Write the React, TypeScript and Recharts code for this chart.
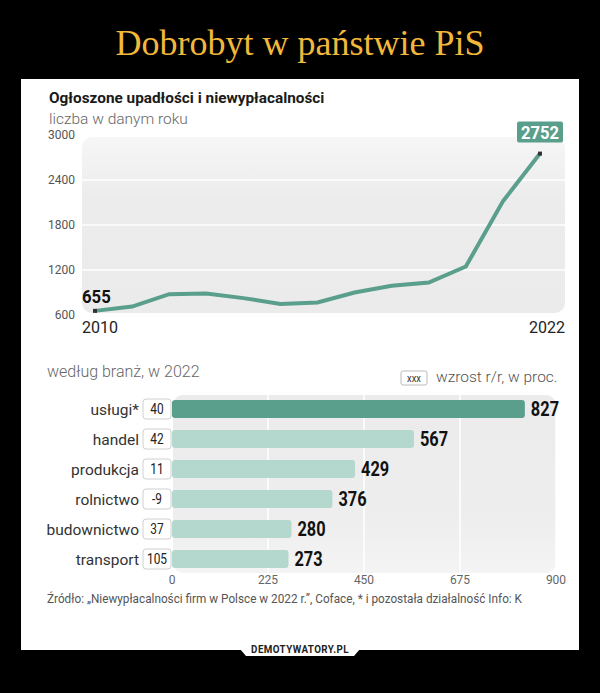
import React from 'react';
import {
  LineChart,
  Line,
  BarChart,
  Bar,
  Cell,
  XAxis,
  YAxis,
  CartesianGrid,
  LabelList,
} from 'recharts';

// --- Data ---
const years = [2010, 2011, 2012, 2013, 2014, 2015, 2016, 2017, 2018, 2019, 2020, 2021, 2022];
const insolvencies = [655, 712, 878, 886, 825, 748, 766, 899, 989, 1033, 1247, 2115, 2752];
const yTicks = [600, 1200, 1800, 2400, 3000];

const sectors = ['usługi*', 'handel', 'produkcja', 'rolnictwo', 'budownictwo', 'transport'];
const sectorCounts = [827, 567, 429, 376, 280, 273];
const sectorGrowth = [40, 42, 11, -9, 37, 105];
const xTicks = [0, 225, 450, 675, 900];

const lineData = years.map((year, i) => ({ year, value: insolvencies[i] }));
const barData = sectors.map((name, i) => ({ name, value: sectorCounts[i], growth: sectorGrowth[i] }));

const SANS = 'Roboto, "Noto Sans", sans-serif';
const TEAL = '#5a9e8c';
const TEAL_LIGHT = '#b4d7ce';

// narrow text: no condensed font installed, so squeeze Roboto horizontally
const CondText = ({ x, y, sx = 0.84, anchor = 'start', children, ...rest }: any) => (
  <text
    transform={`translate(${x},${y}) scale(${sx},1)`}
    textAnchor={anchor}
    fontFamily={SANS}
    {...rest}
  >
    {children}
  </text>
);

// --- Line chart pieces ---
const EndDot = (props: any) => {
  const { cx, cy, index } = props;
  if (index !== 0 && index !== years.length - 1) return null;
  return <rect x={cx - 2} y={cy - 2} width={4} height={4} fill="#333" />;
};

const LineLabel = (props: any) => {
  const { x, y, index, value } = props;
  if (index === 0) {
    return (
      <CondText x={x - 13} y={y - 8} fill="#111" fontSize={19} fontWeight={700} sx={0.88}>
        {value}
      </CondText>
    );
  }
  if (index === years.length - 1) {
    return (
      <g>
        <rect x={x - 23} y={y - 32} width={46} height={21} rx={2} fill={TEAL} />
        <CondText x={x} y={y - 15} fill="#fff" fontSize={18} fontWeight={700} anchor="middle" sx={0.92}>
          {value}
        </CondText>
      </g>
    );
  }
  return null;
};

const YearTick = (props: any) => {
  const { x, y, payload } = props;
  const first = payload.value === years[0];
  return (
    <text
      x={first ? x - 13 : x + 25}
      y={y + 18}
      textAnchor={first ? 'start' : 'end'}
      fill="#222"
      fontSize={16}
      fontFamily={SANS}
    >
      {payload.value}
    </text>
  );
};

// --- Bar chart pieces ---
const SectorTick = (props: any) => {
  const { x, y, payload, index } = props;
  const growth = sectorGrowth[index];
  return (
    <g>
      <text x={x - 33} y={y + 6} textAnchor="end" fill="#333" fontSize={15.5} fontFamily={SANS}>
        {payload.value}
      </text>
      <rect x={x - 29} y={y - 10} width={28} height={20} rx={3} fill="#fff" stroke="#d0d0d0" />
      <CondText x={x - 15} y={y + 5} anchor="middle" fill="#222" fontSize={14} sx={0.85}>
        {growth}
      </CondText>
    </g>
  );
};

const BarValue = (props: any) => {
  const { x, y, width, height, value } = props;
  return (
    <CondText x={x + width + 6} y={y + height / 2 + 7} fill="#111" fontSize={19.5} fontWeight={700} sx={0.84}>
      {value}
    </CondText>
  );
};

const App: React.FC = () => {
  return (
    <div style={{ position: 'absolute', left: 0, top: 0, width: 600, height: 693, background: '#000', overflow: 'hidden' }}>
      {/* card */}
      <div style={{ position: 'absolute', left: 21, top: 79, width: 558, height: 571, background: '#fff' }} />

      {/* plot backgrounds */}
      <div
        style={{
          position: 'absolute', left: 82, top: 137, width: 483, height: 176, borderRadius: 10,
          background: 'linear-gradient(to bottom, #f6f6f6, #ececec 35%, #ebebeb)',
        }}
      />
      <div
        style={{
          position: 'absolute', left: 173, top: 395, width: 383, height: 178, borderRadius: 10,
          background: 'linear-gradient(to bottom, #ebebeb, #eeeeee 70%, #f4f4f4)',
        }}
      />

      {/* static texts */}
      <svg width={600} height={693} style={{ position: 'absolute', left: 0, top: 0 }}>
        <text x={300} y={55} textAnchor="middle" fill="#f2b83a" fontSize={36} fontFamily='"Liberation Serif", serif'>
          Dobrobyt w państwie PiS
        </text>
        <CondText x={49} y={103} fill="#1a1a1a" fontSize={15.5} fontWeight={700} sx={0.99}>
          Ogłoszone upadłości i niewypłacalności
        </CondText>
        <text x={49} y={124} fill="#666" fontSize={15.5} fontWeight={300} fontFamily={SANS}>
          liczba w danym roku
        </text>
        <text x={47} y={377} fill="#666" fontSize={16} fontWeight={300} fontFamily={SANS}>
          według branż, w 2022
        </text>
        <rect x={401} y={371} width={26} height={14} rx={2} fill="#fff" stroke="#bbb" />
        <CondText x={414} y={382} anchor="middle" fill="#333" fontSize={11} sx={0.85}>xxx</CondText>
        <text x={436} y={382} fill="#555" fontSize={15.5} fontWeight={300} fontFamily={SANS}>
          wzrost r/r, w proc.
        </text>
        <CondText x={47} y={603} fill="#555" fontSize={12} sx={0.98}>
          Źródło: „Niewypłacalności firm w Polsce w 2022 r.”, Coface, * i pozostała działalność  Info: K
        </CondText>
        <polygon points="240,649 360,649 354,656 246,656" fill="#fff" />
        <CondText x={300} y={653} anchor="middle" fill="#222" fontSize={11.5} fontWeight={700} sx={0.85} letterSpacing={0.5}>
          DEMOTYWATORY.PL
        </CondText>
      </svg>

      {/* line chart */}
      <div style={{ position: 'absolute', left: 21, top: 120 }}>
        <LineChart width={558} height={220} data={lineData} margin={{ top: 15, right: 14, bottom: 0, left: 0 }}>
          <CartesianGrid vertical={false} stroke="#fff" strokeWidth={1.5} />
          <XAxis
            dataKey="year"
            type="number"
            domain={[2010, 2022]}
            ticks={[2010, 2022]}
            padding={{ left: 13, right: 25 }}
            axisLine={false}
            tickLine={false}
            tickSize={0}
            tickMargin={0}
            height={25}
            tick={<YearTick />}
          />
          <YAxis
            type="number"
            domain={[600, 3000]}
            ticks={yTicks}
            width={61}
            axisLine={false}
            tickLine={false}
            tickSize={0}
            tickMargin={7}
            tick={{ fill: '#555', fontSize: 12, fontFamily: SANS }}
          />
          <Line
            type="linear"
            dataKey="value"
            stroke={TEAL}
            strokeWidth={4}
            dot={<EndDot />}
            activeDot={false}
            isAnimationActive={false}
          >
            <LabelList dataKey="value" content={<LineLabel />} />
          </Line>
        </LineChart>
      </div>

      {/* bar chart */}
      <div style={{ position: 'absolute', left: 21, top: 380 }}>
        <BarChart
          width={558}
          height={214}
          data={barData}
          layout="vertical"
          margin={{ top: 14, right: 23, bottom: 0, left: 0 }}
        >
          <CartesianGrid horizontal={false} stroke="#fff" strokeWidth={1.5} />
          <XAxis
            type="number"
            domain={[0, 900]}
            ticks={xTicks}
            axisLine={false}
            tickLine={false}
            tickSize={0}
            tickMargin={1}
            height={20}
            tick={{ fill: '#666', fontSize: 12, fontFamily: SANS }}
          />
          <YAxis
            type="category"
            dataKey="name"
            width={151}
            axisLine={false}
            tickLine={false}
            tickSize={0}
            tickMargin={0}
            tick={<SectorTick />}
          />
          <Bar dataKey="value" barSize={18} radius={3} isAnimationActive={false}>
            {barData.map((entry, i) => (
              <Cell key={entry.name} fill={i === 0 ? TEAL : TEAL_LIGHT} />
            ))}
            <LabelList dataKey="value" content={<BarValue />} />
          </Bar>
        </BarChart>
      </div>
    </div>
  );
};

export default App;
